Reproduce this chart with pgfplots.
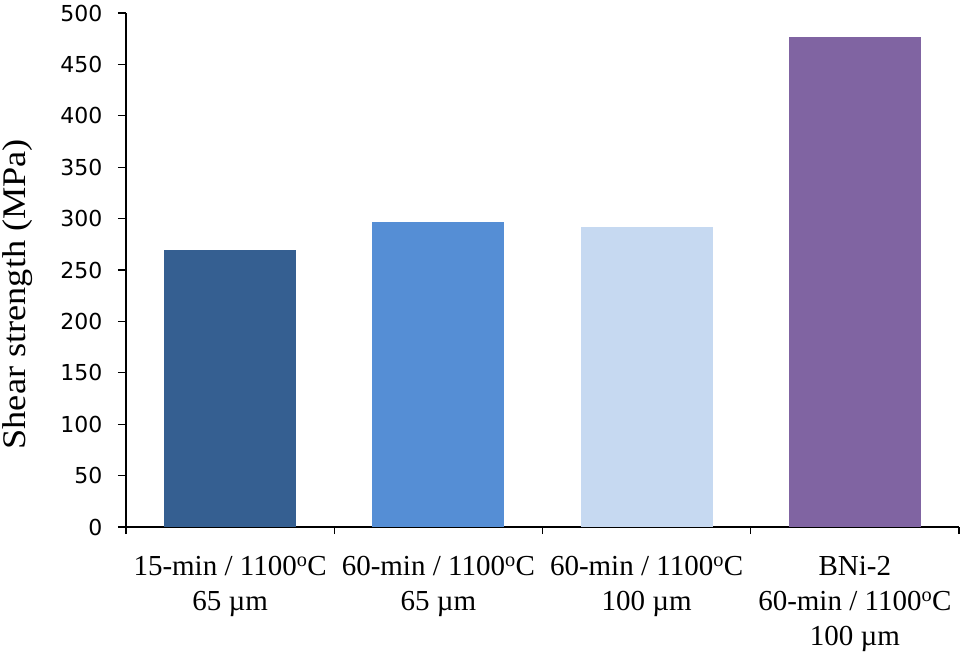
\documentclass[border=0pt]{standalone}
\usepackage{pgfplots}
\pgfplotsset{compat=1.18}
\usepackage{fontspec}
\setmainfont{Liberation Serif}
\newfontfamily\ticksans{DejaVu Sans}
\definecolor{barA}{HTML}{355F91}
\definecolor{barB}{HTML}{558ED5}
\definecolor{barC}{HTML}{C6D9F1}
\definecolor{barD}{HTML}{8064A2}
\begin{document}
\begin{tikzpicture}
\useasboundingbox (-126pt,-129pt) rectangle (841pt,527pt);
\begin{axis}[
    scale only axis,
    width=833pt, height=514pt,
    axis lines=left,
    axis line style={-, line width=1.3pt},
    xmin=-0.5, xmax=3.5,
    ymin=0, ymax=500,
    ytick distance=50,
    xtick={0,1,2,3},
    xticklabels={{15-min / 1100\textsuperscript{o}C\\65 µm},
                 {60-min / 1100\textsuperscript{o}C\\65 µm},
                 {60-min / 1100\textsuperscript{o}C\\100 µm},
                 {BNi-2\\60-min / 1100\textsuperscript{o}C\\100 µm}},
    minor xtick={-0.5,0.5,1.5,2.5,3.5},
    major x tick style={draw=none},
    tick align=outside,
    major tick length=8pt,
    minor tick length=7pt,
    tick style={line width=1.3pt, black},
    xticklabel style={font=\fontsize{29}{35}\selectfont, align=center, yshift=-18pt},
    yticklabel style={font=\ticksans\fontsize{22}{26}\selectfont, xshift=-12pt},
    /pgf/number format/assume math mode=true,
    ylabel={\scalebox{1.1}[1]{Shear strength (MPa)}},
    every axis y label/.style={at={(axis description cs:-0.1297,0.453)},
        rotate=90, anchor=center, font=\fontsize{33}{38}\selectfont},
    bar width=0.635,
    ybar, bar shift=0pt,
]
\addplot[fill=barA, draw=none] coordinates {(0,269)};
\addplot[fill=barB, draw=none] coordinates {(1,297)};
\addplot[fill=barC, draw=none] coordinates {(2,292)};
\addplot[fill=barD, draw=none] coordinates {(3,477)};
\end{axis}
\end{tikzpicture}
\end{document}
